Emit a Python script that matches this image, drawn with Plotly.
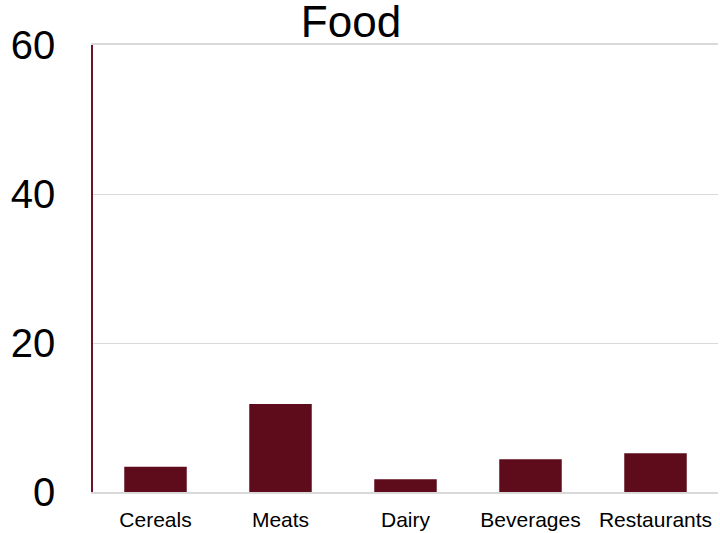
import plotly.graph_objects as go

categories = ["Cereals", "Meats", "Dairy", "Beverages", "Restaurants"]
values = [3.4, 11.8, 1.7, 4.4, 5.2]
y_ticks = [0, 20, 40, 60]

bar_color = "#5e0b1c"

fig = go.Figure(
    go.Bar(
        x=categories,
        y=values,
        marker=dict(color=bar_color, line=dict(width=0)),
    )
)

fig.update_layout(
    width=720,
    height=533,
    margin=dict(l=93, r=2, t=45, b=41),
    paper_bgcolor="white",
    plot_bgcolor="white",
    bargap=0.5,
    showlegend=False,
    font=dict(family="Liberation Sans, Arial, sans-serif", color="black"),
    title=dict(
        text="Food",
        x=0.4875,
        xref="container",
        xanchor="center",
        y=0.959,
        yref="container",
        yanchor="middle",
        font=dict(size=44, color="black"),
    ),
)

fig.update_yaxes(
    range=[0, 60],
    tickvals=y_ticks,
    ticktext=[str(v) for v in y_ticks],
    tickfont=dict(size=40),
    showgrid=True,
    gridcolor="#d9d9d9",
    gridwidth=1,
    showline=True,
    linecolor="#6b1428",
    linewidth=1.5,
    zeroline=False,
    ticks="",
    ticklabelstandoff=28,
)

# x-axis line mirrored to the top edge doubles as the 60 gridline
fig.update_xaxes(
    tickfont=dict(size=21),
    showline=True,
    mirror=True,
    linecolor="#d9d9d9",
    linewidth=1.5,
    ticks="",
    ticklabelstandoff=8,
)

fig.write_html("out.html")
